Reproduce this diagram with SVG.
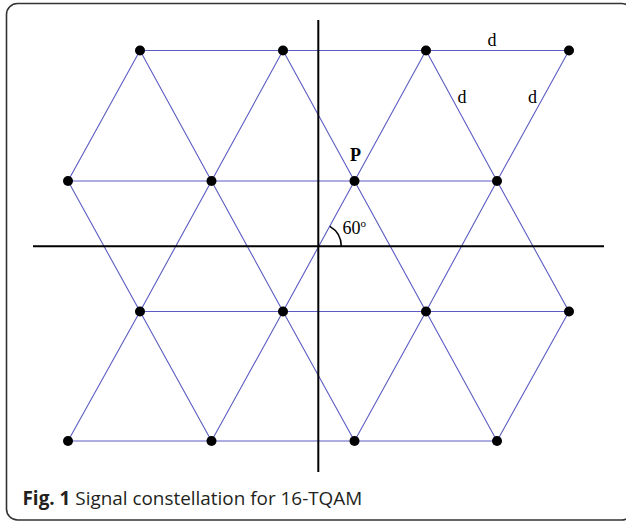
<svg xmlns="http://www.w3.org/2000/svg" width="626" height="522" viewBox="0 0 626 522">
<style>
.e{stroke:#5c5cc4;stroke-width:1.1;fill:none}
.ax{stroke:#000;stroke-width:2;fill:none}
.pt{fill:#000}
.lbl{font-family:"Liberation Serif",serif;font-size:18px;fill:#000}
.cap{font-family:"Open Sans",sans-serif;font-size:18.9px;fill:#231f20}
</style>
<rect x="6.5" y="3.5" width="626" height="516.5" rx="11" fill="#fff" stroke="#333" stroke-width="1.6"/>
<g id="connectors">
<g class="e">
<line x1="140" y1="50.5" x2="569" y2="50.5"/>
<line x1="68" y1="181" x2="497" y2="181"/>
<line x1="140" y1="311.5" x2="569" y2="311.5"/>
<line x1="68" y1="441" x2="497" y2="441"/>
<polyline points="140,50.5 68,181 140,311.5 68,441"/>
<polyline points="140,50.5 211.5,181 140,311.5 211.5,441"/>
<polyline points="283,50.5 211.5,181 283,311.5 211.5,441"/>
<polyline points="283,50.5 354.5,181 283,311.5 354.5,441"/>
<polyline points="426,50.5 354.5,181 426,311.5 354.5,441"/>
<polyline points="426,50.5 497,181 426,311.5 497,441"/>
<polyline points="569,50.5 497,181 569,311.5 497,441"/>
</g>
<line class="ax" x1="318.3" y1="20" x2="318.3" y2="472"/>
<line class="ax" x1="33" y1="246.3" x2="604" y2="246.3"/>
<path d="M 341.3 246.3 A 23 23 0 0 0 329.8 226.4" stroke="#000" stroke-width="1.6" fill="none"/>
</g>
<g id="nodes">
<g id="r1"><circle class="pt" cx="140" cy="50.5" r="5"/><circle class="pt" cx="283" cy="50.5" r="5"/><circle class="pt" cx="426" cy="50.5" r="5"/><circle class="pt" cx="569" cy="50.5" r="5"/></g>
<g id="r2"><circle class="pt" cx="68" cy="181" r="5"/><circle class="pt" cx="211.5" cy="181" r="5"/><circle class="pt" cx="354.5" cy="181" r="5"/><circle class="pt" cx="497" cy="181" r="5"/></g>
<g id="r3"><circle class="pt" cx="140" cy="311.5" r="5"/><circle class="pt" cx="283" cy="311.5" r="5"/><circle class="pt" cx="426" cy="311.5" r="5"/><circle class="pt" cx="569" cy="311.5" r="5"/></g>
<g id="r4"><circle class="pt" cx="68" cy="441" r="5"/><circle class="pt" cx="211.5" cy="441" r="5"/><circle class="pt" cx="354.5" cy="441" r="5"/><circle class="pt" cx="497" cy="441" r="5"/></g>
</g>
<g id="labels">
<text class="lbl" x="487.5" y="46">d</text>
<text class="lbl" x="457.5" y="103">d</text>
<text class="lbl" x="528" y="103">d</text>
<text class="lbl" x="350" y="161" font-weight="bold">P</text>
<text class="lbl" x="342.5" y="234">60<tspan font-size="11" dy="-7">o</tspan></text>
</g>
<text class="cap" x="22.5" y="505"><tspan font-weight="bold">Fig. 1</tspan> Signal constellation for 16-TQAM</text>
</svg>
